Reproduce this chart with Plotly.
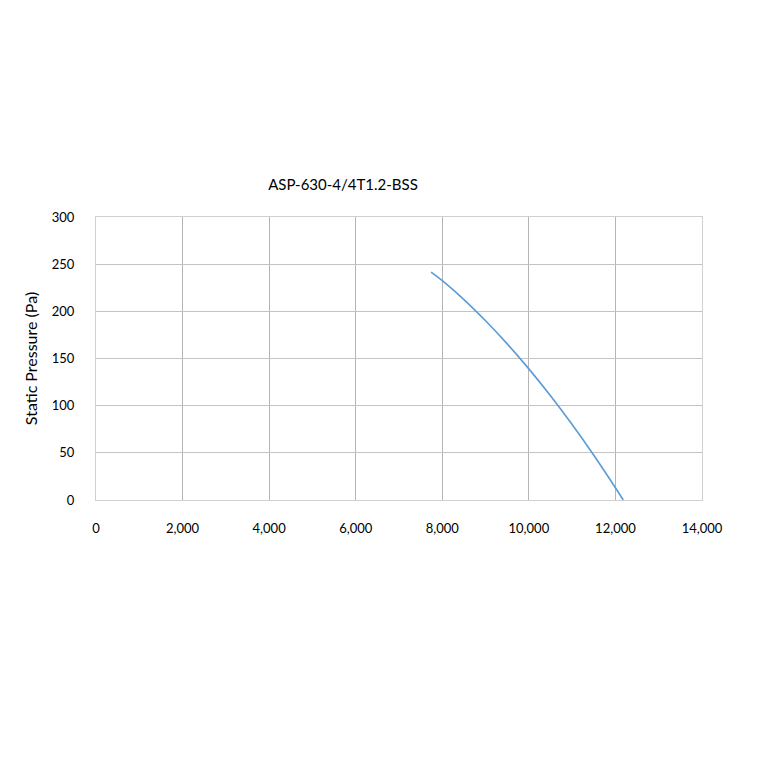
import plotly.graph_objects as go

title_text = "ASP-630-4/4T1.2-BSS"
airflow = [7740, 8000, 8500, 9000, 9500, 10000, 10500, 11000, 11500, 12000, 12180]
pressure = [241.5, 232.5, 212.5, 190.0, 165.5, 139.0, 110.5, 80.0, 47.5, 13.0, 0]
x_ticks = [0, 2000, 4000, 6000, 8000, 10000, 12000, 14000]
y_ticks = [0, 50, 100, 150, 200, 250, 300]

FONT = "Lato, Open Sans, sans-serif"

fig = go.Figure()
fig.add_trace(go.Scatter(
    x=airflow, y=pressure, mode="lines",
    line=dict(color="#5b9bd5", width=1.6, shape="spline", smoothing=1.0),
    showlegend=False, hoverinfo="skip",
))

fig.update_layout(
    width=760, height=760,
    margin=dict(l=88, r=66, t=209, b=268),
    paper_bgcolor="white", plot_bgcolor="white",
    font=dict(family=FONT, color="#000000", size=13),
    title=dict(text=title_text, x=335/760, xref="container", xanchor="center",
               y=1-177/760, yref="container", yanchor="middle",
               font=dict(family=FONT, size=15, color="#000000")),
)
fig.update_xaxes(
    range=[0, 14000], tickvals=x_ticks, tickformat=",d",
    showgrid=True, gridcolor="#b5b5b5", gridwidth=1,
    showline=True, linecolor="#d0d0d0", linewidth=1, mirror=True,
    ticks="outside", ticklen=16, tickcolor="rgba(0,0,0,0)",
    zeroline=False, tickfont=dict(size=13),
)
fig.update_yaxes(
    range=[0, 300], tickvals=y_ticks,
    showgrid=True, gridcolor="#c4c4c4", gridwidth=1,
    showline=True, linecolor="#d0d0d0", linewidth=1, mirror=True,
    ticks="outside", ticklen=18, tickcolor="rgba(0,0,0,0)",
    zeroline=False, tickfont=dict(size=13),
    title=dict(text="Static Pressure (Pa)", font=dict(size=16), standoff=10),
)
fig.write_html("out.html")
